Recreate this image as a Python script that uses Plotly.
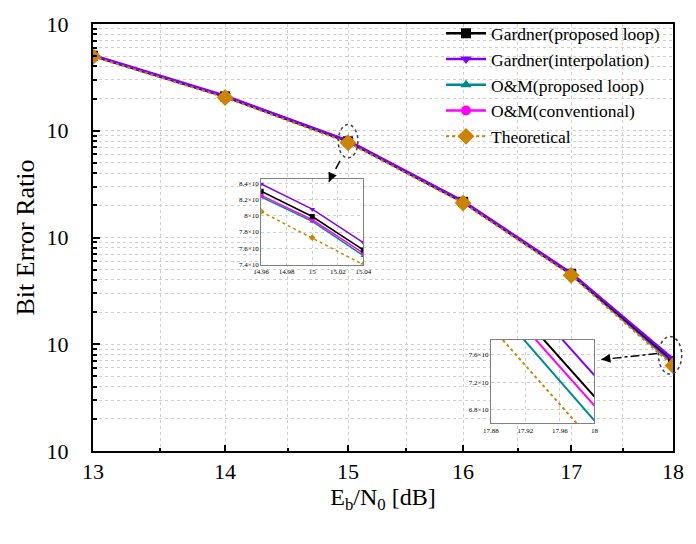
import math
import plotly.graph_objects as go

# ---------------- data ----------------
ebn0 = [13, 14, 15, 16, 17, 18]
gardner_proposed = [5.05e-2, 2.10e-2, 7.97e-3, 2.16e-3, 4.58e-4, 6.99e-5]
gardner_interp   = [5.10e-2, 2.13e-2, 8.08e-3, 2.19e-3, 4.66e-4, 7.30e-5]
om_proposed      = [5.03e-2, 2.09e-2, 7.93e-3, 2.14e-3, 4.52e-4, 6.64e-5]
om_conventional  = [5.04e-2, 2.09e-2, 7.95e-3, 2.15e-3, 4.55e-4, 6.86e-5]
theoretical      = [4.95e-2, 2.05e-2, 7.73e-3, 2.10e-3, 4.42e-4, 6.31e-5]

# inset 1 (around 15 dB), values in units of 1e-3
in1_x = [14.96, 15.0, 15.04]
in1_gp = [8.30, 7.99, 7.58]
in1_gi = [8.39, 8.08, 7.67]
in1_op = [8.23, 7.93, 7.51]
in1_oc = [8.25, 7.95, 7.54]
in1_th = [8.05, 7.73, 7.40]
in1_xticks = [14.96, 14.98, 15.0, 15.02, 15.04]
in1_xlabels = ["14.96", "14.98", "15", "15.02", "15.04"]
in1_yticks = [7.4, 7.6, 7.8, 8.0, 8.2, 8.4]
in1_ylabels = ["7.4×10", "7.6×10", "7.8×10", "8×10", "8.2×10", "8.4×10"]

# inset 2 (around 18 dB), values in units of 1e-5
in2_x = [17.88, 18.0]
in2_gp = [8.68, 6.99]
in2_gi = [8.98, 7.30]
in2_op = [8.37, 6.64]
in2_oc = [8.55, 6.86]
in2_th = [8.01, 6.31]
in2_xticks = [17.88, 17.92, 17.96, 18.0]
in2_xlabels = ["17.88", "17.92", "17.96", "18"]
in2_yticks = [6.8, 7.2, 7.6]
in2_ylabels = ["6.8×10", "7.2×10", "7.6×10"]

y_decades = [-5, -4, -3, -2, -1]
y_labels = ["10", "10", "10", "10", "10"]
y_minor_mult = [2, 3, 4, 5, 6, 7, 8, 9]
x_minor = [13.5, 14.5, 15.5, 16.5, 17.5]

names = ["Gardner(proposed loop)", "Gardner(interpolation)", "O&M(proposed loop)",
         "O&M(conventional)", "Theoretical"]
colors = ["#000000", "#8000FF", "#008B8B", "#FF00FF", "#CC8400"]
symbols = ["square", "triangle-down", "triangle-up", "circle", "diamond"]
dashes = ["solid", "solid", "solid", "solid", "dot"]

main_series = [gardner_proposed, gardner_interp, om_proposed, om_conventional, theoretical]
in1_series = [in1_gp, in1_gi, in1_op, in1_oc, in1_th]
in2_series = [in2_gp, in2_gi, in2_op, in2_oc, in2_th]

FONT = "Liberation Serif"
fig = go.Figure()

draw_order = [2, 3, 0, 1, 4]
for i in draw_order:
    fig.add_trace(go.Scatter(
        x=ebn0, y=main_series[i], name=names[i], mode="lines+markers", legendrank=i + 1,
        line=dict(color=colors[i], width=2.5 if dashes[i] == "solid" else 2, dash=dashes[i]),
        marker=dict(symbol=symbols[i], size=10 if symbols[i] != "diamond" else 13, color=colors[i]),
        xaxis="x", yaxis="y"))

order = [4, 2, 3, 0, 1]
for i in order:
    fig.add_trace(go.Scatter(
        x=in1_x, y=in1_series[i], mode="lines+markers", showlegend=False,
        line=dict(color=colors[i], width=1.5, dash="dot" if i == 4 else "solid"),
        marker=dict(symbol=symbols[i], size=5, color=colors[i]),
        xaxis="x2", yaxis="y2", cliponaxis=True))
for i in order:
    fig.add_trace(go.Scatter(
        x=in2_x, y=in2_series[i], mode="lines", showlegend=False,
        line=dict(color=colors[i], width=2, dash="dot" if i == 4 else "solid"),
        xaxis="x3", yaxis="y3", cliponaxis=True))

XR = (math.log10(ebn0[0]), math.log10(ebn0[-1]))
YR = (-5, -1)
def px(x):
    return (math.log10(x) - XR[0]) / (XR[1] - XR[0])
def py(v):
    return (math.log10(v) - YR[0]) / (YR[1] - YR[0])

GRID = "#cfcfcf"
grid = dict(showgrid=True, gridcolor=GRID, griddash="dot", gridwidth=1)
y_minor_vals = [m * 10 ** d for d in y_decades[:-1] for m in y_minor_mult]

fig.update_layout(
    width=696, height=544,
    margin=dict(l=93, r=20, t=18, b=93),
    plot_bgcolor="white", paper_bgcolor="white",
    font=dict(family=FONT, color="black"),
    showlegend=True,
    legend=dict(x=0.6, y=1.02, xanchor="left", yanchor="top",
                bgcolor="rgba(255,255,255,0)", borderwidth=0,
                font=dict(size=17.5, family=FONT), tracegroupgap=0,
                itemwidth=40),
    xaxis=dict(type="log", range=list(XR), tickvals=ebn0, ticktext=[str(v) for v in ebn0],
               ticks="inside", ticklen=6, tickwidth=1.5, tickcolor="black",
               showline=True, linecolor="black", linewidth=2, mirror=True,
               tickfont=dict(size=22, family=FONT), zeroline=False,
               title=dict(text="E<sub>b</sub>/N<sub>0</sub> [dB]", font=dict(size=24, family=FONT), standoff=3),
               minor=dict(tickvals=x_minor, ticks="inside", ticklen=3, tickcolor="black",
                          showgrid=True, gridcolor=GRID, griddash="dot"),
               **grid),
    yaxis=dict(type="log", range=list(YR), tickvals=[10 ** d for d in y_decades], ticktext=y_labels,
               ticks="inside", ticklen=7, tickwidth=1.5, tickcolor="black",
               showline=True, linecolor="black", linewidth=2, mirror=True,
               tickfont=dict(size=22, family=FONT), zeroline=False, ticklabelstandoff=18,
               title=dict(text="Bit Error Ratio", font=dict(size=26, family=FONT), standoff=4),
               minor=dict(tickvals=y_minor_vals, ticks="inside", ticklen=4, tickcolor="black",
                          showgrid=True, gridcolor=GRID, griddash="dot"),
               **grid),
    xaxis2=dict(domain=[0.29, 0.466], anchor="y2", range=[14.96, 15.04],
                tickvals=in1_xticks, ticktext=in1_xlabels, tickfont=dict(size=7, family=FONT),
                showline=True, linecolor="#808080", linewidth=1, mirror=True, ticks="",
                zeroline=False, **grid),
    yaxis2=dict(domain=[0.4365, 0.637], anchor="x2", range=[7.4, 8.45],
                tickvals=in1_yticks, ticktext=in1_ylabels, tickfont=dict(size=7, family=FONT),
                showline=True, linecolor="#808080", linewidth=1, mirror=True, ticks="",
                zeroline=False, **grid),
    xaxis3=dict(domain=[0.686, 0.8645], anchor="y3", range=[17.88, 18.0],
                tickvals=in2_xticks, ticktext=in2_xlabels, tickfont=dict(size=7, family=FONT),
                showline=True, linecolor="#808080", linewidth=1, mirror=True, ticks="",
                zeroline=False, **grid),
    yaxis3=dict(domain=[0.0647, 0.261], anchor="x3", range=[6.6, 7.82],
                tickvals=in2_yticks, ticktext=in2_ylabels, tickfont=dict(size=7, family=FONT),
                showline=True, linecolor="#808080", linewidth=1, mirror=True, ticks="",
                zeroline=False, **grid),
)

shapes = []
for xr, yr in (("x2", "y2"), ("x3", "y3")):
    shapes.append(dict(type="rect", xref=xr + " domain", yref=yr + " domain",
                       x0=0, x1=1, y0=0, y1=1, fillcolor="white",
                       line=dict(width=0), layer="below"))
c1x, c1y = px(ebn0[2]), py(gardner_proposed[2])
shapes.append(dict(type="circle", xref="paper", yref="paper",
                   x0=c1x - 0.017, x1=c1x + 0.017, y0=c1y - 0.039, y1=c1y + 0.039,
                   line=dict(color="#404040", width=1.5, dash="dot")))
c2x, c2y = px(ebn0[5]) - 0.005, py(gardner_proposed[5]) + 0.013
shapes.append(dict(type="circle", xref="paper", yref="paper",
                   x0=c2x - 0.02, x1=c2x + 0.02, y0=c2y - 0.044, y1=c2y + 0.044,
                   line=dict(color="#404040", width=1.5, dash="dot")))
a1_tail = (c1x - 0.014, c1y - 0.046)
a1_head = (c1x - 0.033, c1y - 0.095)
shapes.append(dict(type="line", xref="paper", yref="paper",
                   x0=a1_tail[0], y0=a1_tail[1], x1=a1_head[0], y1=a1_head[1],
                   line=dict(color="black", width=1.5, dash="dash")))
a2_tail = (c2x - 0.022, c2y + 0.004)
a2_head = (0.8765, c2y - 0.01)
shapes.append(dict(type="line", xref="paper", yref="paper",
                   x0=a2_tail[0], y0=a2_tail[1], x1=a2_head[0], y1=a2_head[1],
                   line=dict(color="black", width=1.5, dash="dashdot")))
fig.update_layout(shapes=shapes)

fig.add_annotation(xref="paper", yref="paper", x=a1_head[0], y=a1_head[1],
                   ax=4, ay=-9, text="", showarrow=True, arrowhead=2, arrowsize=1.2,
                   arrowwidth=1.5, arrowcolor="black")
fig.add_annotation(xref="paper", yref="paper", x=a2_head[0], y=a2_head[1],
                   ax=10, ay=-1.5, text="", showarrow=True, arrowhead=2, arrowsize=1.2,
                   arrowwidth=1.5, arrowcolor="black")

fig.write_html("out.html")
